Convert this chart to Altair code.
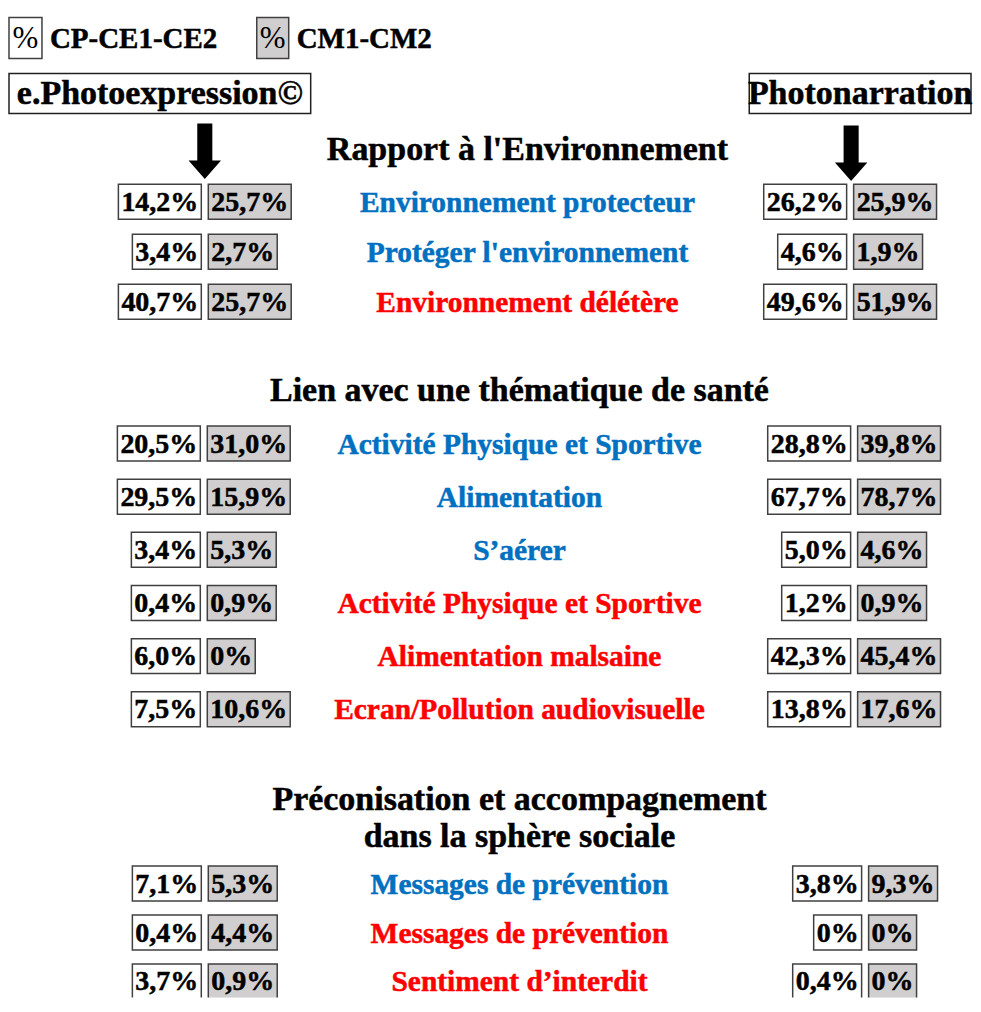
import altair as alt
import pandas as pd

# ---------------- data ----------------
legend_labels = ["CP-CE1-CE2", "CM1-CM2"]
method_names = ["e.Photoexpression©", "Photonarration"]

section_titles = [
    "Rapport à l'Environnement",
    "Lien avec une thématique de santé",
    "Préconisation et accompagnement\ndans la sphère sociale",
]
item_labels = [
    "Environnement protecteur", "Protéger l'environnement", "Environnement délétère",
    "Activité Physique et Sportive", "Alimentation", "S’aérer",
    "Activité Physique et Sportive", "Alimentation malsaine", "Ecran/Pollution audiovisuelle",
    "Messages de prévention", "Messages de prévention", "Sentiment d’interdit",
]
item_section = [0, 0, 0, 1, 1, 1, 1, 1, 1, 2, 2, 2]
item_tone = ["positif", "positif", "négatif",
             "positif", "positif", "positif", "négatif", "négatif", "négatif",
             "positif", "négatif", "négatif"]

photoexpression_cp = ["14,2%", "3,4%", "40,7%", "20,5%", "29,5%", "3,4%",
                      "0,4%", "6,0%", "7,5%", "7,1%", "0,4%", "3,7%"]
photoexpression_cm = ["25,7%", "2,7%", "25,7%", "31,0%", "15,9%", "5,3%",
                      "0,9%", "0%", "10,6%", "5,3%", "4,4%", "0,9%"]
photonarration_cp = ["26,2%", "4,6%", "49,6%", "28,8%", "67,7%", "5,0%",
                     "1,2%", "42,3%", "13,8%", "3,8%", "0%", "0,4%"]
photonarration_cm = ["25,9%", "1,9%", "51,9%", "39,8%", "78,7%", "4,6%",
                     "0,9%", "45,4%", "17,6%", "9,3%", "0%", "0%"]

# ---------------- layout (page pixel coordinates) ----------------
W, H = 965, 990
FONT = "Liberation Serif"
SEC_FIRST_Y = [201.5, 443.5, 884]
SEC_STEP = [50.0, 53.2, 49.0]
SEC_LABEL_X = [528, 520, 520]
SEC_COL_X = [(205, 851), (204, 855), (205, 866)]
TITLE_LINE_Y = [[150], [391], [800, 837]]
BOX_H = 35
BOX_GAP = 7
NUM_FONT = 28
ADV = {c: 0.5 for c in "0123456789"}
ADV[","] = 0.25
ADV["%"] = 1.0


def text_w(s, size):
    return sum(ADV.get(c, 0.5) for c in s) * size


XS = alt.Scale(domain=[8, 8 + W], nice=False, zero=False)
YS = alt.Scale(domain=[8, 8 + H], nice=False, zero=False, reverse=True)
CS = alt.Scale(domain=legend_labels, range=["#FFFFFF", "#D0CECE"])
TONE = alt.Scale(domain=["positif", "négatif"], range=["#0070C0", "#FF0000"])

# ---------------- derived tables ----------------
item_y = []
counter = [0, 0, 0]
for s in item_section:
    item_y.append(SEC_FIRST_Y[s] + SEC_STEP[s] * counter[s])
    counter[s] += 1

box_rows = []
series = [(0, photoexpression_cp, photoexpression_cm), (1, photonarration_cp, photonarration_cm)]
for i, (s, yc) in enumerate(zip(item_section, item_y)):
    for m, cp, cm in series:
        cx = SEC_COL_X[s][m]
        w1 = text_w(cp[i], NUM_FONT) + 6
        w2 = text_w(cm[i], NUM_FONT) + 6
        r = cx - BOX_GAP / 2
        box_rows.append(dict(val=cp[i], niveau=legend_labels[0], x=r - w1, x2=r,
                             y=yc - BOX_H / 2, y2=yc + BOX_H / 2, tx=r - w1 / 2, ty=yc + 1))
        l = cx + BOX_GAP / 2
        box_rows.append(dict(val=cm[i], niveau=legend_labels[1], x=l, x2=l + w2,
                             y=yc - BOX_H / 2, y2=yc + BOX_H / 2, tx=l + w2 / 2, ty=yc + 1))
boxes = pd.DataFrame(box_rows)

labels_df = pd.DataFrame(dict(label=item_labels, tone=item_tone,
                              x=[SEC_LABEL_X[s] for s in item_section],
                              y=[v + 1 for v in item_y]))

title_rows = []
for s, t in enumerate(section_titles):
    for line, ly in zip(t.split("\n"), TITLE_LINE_Y[s]):
        title_rows.append(dict(t=line, x=SEC_LABEL_X[s], y=ly))
titles_df = pd.DataFrame(title_rows)

legend_box = pd.DataFrame(dict(niveau=legend_labels, x=[9, 257], x2=[42, 289],
                               y=[17, 17], y2=[58, 58], tx=[25.5, 273], ty=[38.5, 38.5],
                               lx=[50, 297], sym=["%", "%"]))

header_df = pd.DataFrame(dict(name=method_names, x=[9, 750], x2=[311, 972],
                              y=[73, 73], y2=[113, 113], tx=[160, 861], ty=[94, 94]))

arrow_df = pd.DataFrame(dict(x=[205, 852], y=[152, 154]))
ARROW = "M-0.26,-1L0.26,-1L0.26,0.28L0.56,0.28L0,0.92L-0.56,0.28L-0.26,0.28Z"

# ---------------- layers ----------------
rects = alt.Chart(boxes).mark_rect(stroke="#404040", strokeWidth=1.5, clip=True).encode(
    x=alt.X("x:Q", scale=XS, axis=None), x2="x2:Q",
    y=alt.Y("y:Q", scale=YS, axis=None), y2="y2:Q",
    fill=alt.Fill("niveau:N", scale=CS, legend=None),
)
nums = alt.Chart(boxes).mark_text(font=FONT, fontWeight="bold", fontSize=NUM_FONT,
                                  color="black", stroke="black", strokeWidth=0.5, clip=True,
                                  baseline="middle", align="center").encode(
    x=alt.X("tx:Q", scale=XS, axis=None), y=alt.Y("ty:Q", scale=YS, axis=None), text="val:N")

lab = alt.Chart(labels_df).mark_text(font=FONT, fontWeight="bold", fontSize=29.5, clip=True,
                                     strokeWidth=0.5, baseline="middle", align="center").encode(
    x=alt.X("x:Q", scale=XS, axis=None), y=alt.Y("y:Q", scale=YS, axis=None),
    text="label:N", color=alt.Color("tone:N", scale=TONE, legend=None),
    stroke=alt.Stroke("tone:N", scale=TONE, legend=None))

tit = alt.Chart(titles_df).mark_text(font=FONT, fontWeight="bold", fontSize=34,
                                     color="black", stroke="black", strokeWidth=0.5,
                                     baseline="middle", align="center").encode(
    x=alt.X("x:Q", scale=XS, axis=None), y=alt.Y("y:Q", scale=YS, axis=None), text="t:N")

leg_rect = alt.Chart(legend_box).mark_rect(stroke="#404040", strokeWidth=1.5).encode(
    x=alt.X("x:Q", scale=XS, axis=None), x2="x2:Q",
    y=alt.Y("y:Q", scale=YS, axis=None), y2="y2:Q",
    fill=alt.Fill("niveau:N", scale=CS, legend=None))
leg_sym = alt.Chart(legend_box).mark_text(font=FONT, fontSize=31, color="black",
                                          baseline="middle", align="center").encode(
    x=alt.X("tx:Q", scale=XS, axis=None), y=alt.Y("ty:Q", scale=YS, axis=None), text="sym:N")
leg_txt = alt.Chart(legend_box).mark_text(font=FONT, fontWeight="bold", fontSize=29,
                                          color="black", stroke="black", strokeWidth=0.5,
                                          baseline="middle", align="left").encode(
    x=alt.X("lx:Q", scale=XS, axis=None), y=alt.Y("ty:Q", scale=YS, axis=None), text="niveau:N")

head_rect = alt.Chart(header_df).mark_rect(fill="white", stroke="#202020", strokeWidth=1.5,
                                           clip=True).encode(
    x=alt.X("x:Q", scale=XS, axis=None), x2="x2:Q",
    y=alt.Y("y:Q", scale=YS, axis=None), y2="y2:Q")
head_txt = alt.Chart(header_df).mark_text(font=FONT, fontWeight="bold", fontSize=34,
                                          color="black", stroke="black", strokeWidth=0.5,
                                          baseline="middle", align="center").encode(
    x=alt.X("tx:Q", scale=XS, axis=None), y=alt.Y("ty:Q", scale=YS, axis=None), text="name:N")

arrows = alt.Chart(arrow_df).mark_point(shape=ARROW, filled=True, fill="black",
                                        stroke="black", strokeWidth=0, opacity=1, size=3364).encode(
    x=alt.X("x:Q", scale=XS, axis=None), y=alt.Y("y:Q", scale=YS, axis=None))

chart = alt.layer(rects, nums, lab, tit, leg_rect, leg_sym, leg_txt, head_rect, head_txt, arrows).properties(
    width=W, height=H, padding=0, background="white"
).configure_view(stroke=None)

chart.save("out.html", embed_options={"renderer": "svg", "actions": False})
